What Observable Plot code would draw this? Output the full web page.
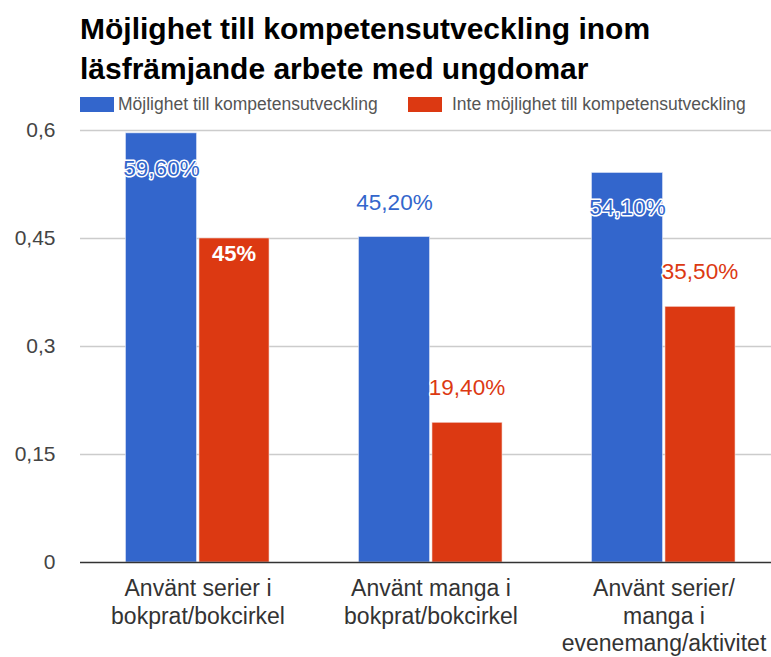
<!DOCTYPE html>
<html>
<head>
<meta charset="utf-8">
<script src="https://cdn.jsdelivr.net/npm/d3@7"></script>
<script src="https://cdn.jsdelivr.net/npm/@observablehq/plot@0.6"></script>
<style>
  html, body { margin: 0; padding: 0; background: #fff; }
  body { width: 771px; height: 657px; overflow: hidden; font-family: Arial, "Liberation Sans", sans-serif; }
  #header { position: relative; height: 110px; }
  #title { position: absolute; left: 80px; top: 9px; font-size: 30px; font-weight: bold; line-height: 40px; color: #000; white-space: nowrap; }
  .sw { position: absolute; top: 97px; width: 34px; height: 15px; z-index: 2; }
  .lt { position: absolute; top: 94px; font-size: 17.5px; line-height: 20px; color: #555; white-space: nowrap; z-index: 2; }
  #chart svg { display: block; }
</style>
</head>
<body>
<div id="header">
  <div id="title">Möjlighet till kompetensutveckling inom<br>läsfrämjande arbete med ungdomar</div>
</div>
<div id="chart"></div>
<script>
const categories = [
  "Använt serier i\nbokprat/bokcirkel",
  "Använt manga i\nbokprat/bokcirkel",
  "Använt serier/\nmanga i\nevenemang/aktivitet"
];
const series = ["Möjlighet till kompetensutveckling", "Inte möjlighet till kompetensutveckling"];
const colors = ["#3366cc", "#dc3912"];
const possibleValues = [0.596, 0.452, 0.541];
const notPossibleValues = [0.45, 0.194, 0.355];
const possibleLabels = ["59,60%", "45,20%", "54,10%"];
const notPossibleLabels = ["45%", "19,40%", "35,50%"];
const possiblePlacement = ["inside", "above", "inside"];
const notPossiblePlacement = ["insideBold", "above", "above"];
const yTicks = [0, 0.15, 0.3, 0.45, 0.6];

// legend
const header = document.getElementById("header");
const legendPos = [[80, 118], [408, 452]];
series.forEach((s, i) => {
  const sw = document.createElement("div");
  sw.className = "sw"; sw.style.left = legendPos[i][0] + "px"; sw.style.background = colors[i];
  header.appendChild(sw);
  const t = document.createElement("div");
  t.className = "lt"; t.style.left = legendPos[i][1] + "px"; t.textContent = s;
  header.appendChild(t);
});

const data = categories.flatMap((c, i) => [
  {category: c, series: series[0], value: possibleValues[i], label: possibleLabels[i], place: possiblePlacement[i]},
  {category: c, series: series[1], value: notPossibleValues[i], label: notPossibleLabels[i], place: notPossiblePlacement[i]}
]);
const isA = d => d.series === series[0];
const isB = d => d.series === series[1];
const fmt = d => String(d).replace(".", ",");

const plot = Plot.plot({
  width: 771,
  height: 547,
  marginLeft: 80,
  marginRight: 0,
  marginTop: 20,
  marginBottom: 95,
  style: {fontFamily: "Arial, 'Liberation Sans', sans-serif", background: "transparent"},
  x: {domain: categories, range: [80, 780], padding: 0, axis: null},
  y: {domain: [0, 0.6], axis: null},
  color: {domain: series, range: colors},
  marks: [
    Plot.ruleY(yTicks.filter(d => d > 0), {stroke: "#cccccc", strokeWidth: 1.5, strokeOpacity: 1}),
    Plot.axisY({ticks: yTicks, tickFormat: fmt, tickSize: 0, tickPadding: 25, fontSize: 21, fill: "#444", label: null}),
    Plot.barY(data, {filter: isA, x: "category", y: "value", fill: "series", insetLeft: 44.5, insetRight: 117.5, stroke: "#dfe6f7", strokeWidth: 0.6}),
    Plot.barY(data, {filter: isB, x: "category", y: "value", fill: "series", insetLeft: 118, insetRight: 45, stroke: "#f3d3cc", strokeWidth: 0.6}),
    Plot.ruleY([0], {stroke: "#333", strokeWidth: 1.5}),
    Plot.axisX({tickSize: 0, tickPadding: 14, fontSize: 23, lineHeight: 1.2, fill: "#333", label: null}),
    // value labels
    Plot.text(data, {filter: d => isA(d) && d.place === "inside", x: "category", y: "value", text: "label", dx: -36.5, dy: 35, fontSize: 22.5, fill: colors[0], stroke: "white", strokeWidth: 3}),
    Plot.text(data, {filter: d => isA(d) && d.place === "above", x: "category", y: "value", text: "label", dx: -36.5, dy: -34, fontSize: 22.5, fill: colors[0], stroke: "white", strokeWidth: 3}),
    Plot.text(data, {filter: d => isB(d) && d.place === "above", x: "category", y: "value", text: "label", dx: 36, dy: -35, fontSize: 22.5, fill: colors[1], stroke: "white", strokeWidth: 3}),
    Plot.text(data, {filter: d => isB(d) && d.place === "insideBold", x: "category", y: "value", text: "label", dx: 36, dy: 15, fontSize: 22, fontWeight: "bold", fill: "white"})
  ]
});
plot.style.marginTop = "0";
document.getElementById("chart").appendChild(plot);
</script>
</body>
</html>
